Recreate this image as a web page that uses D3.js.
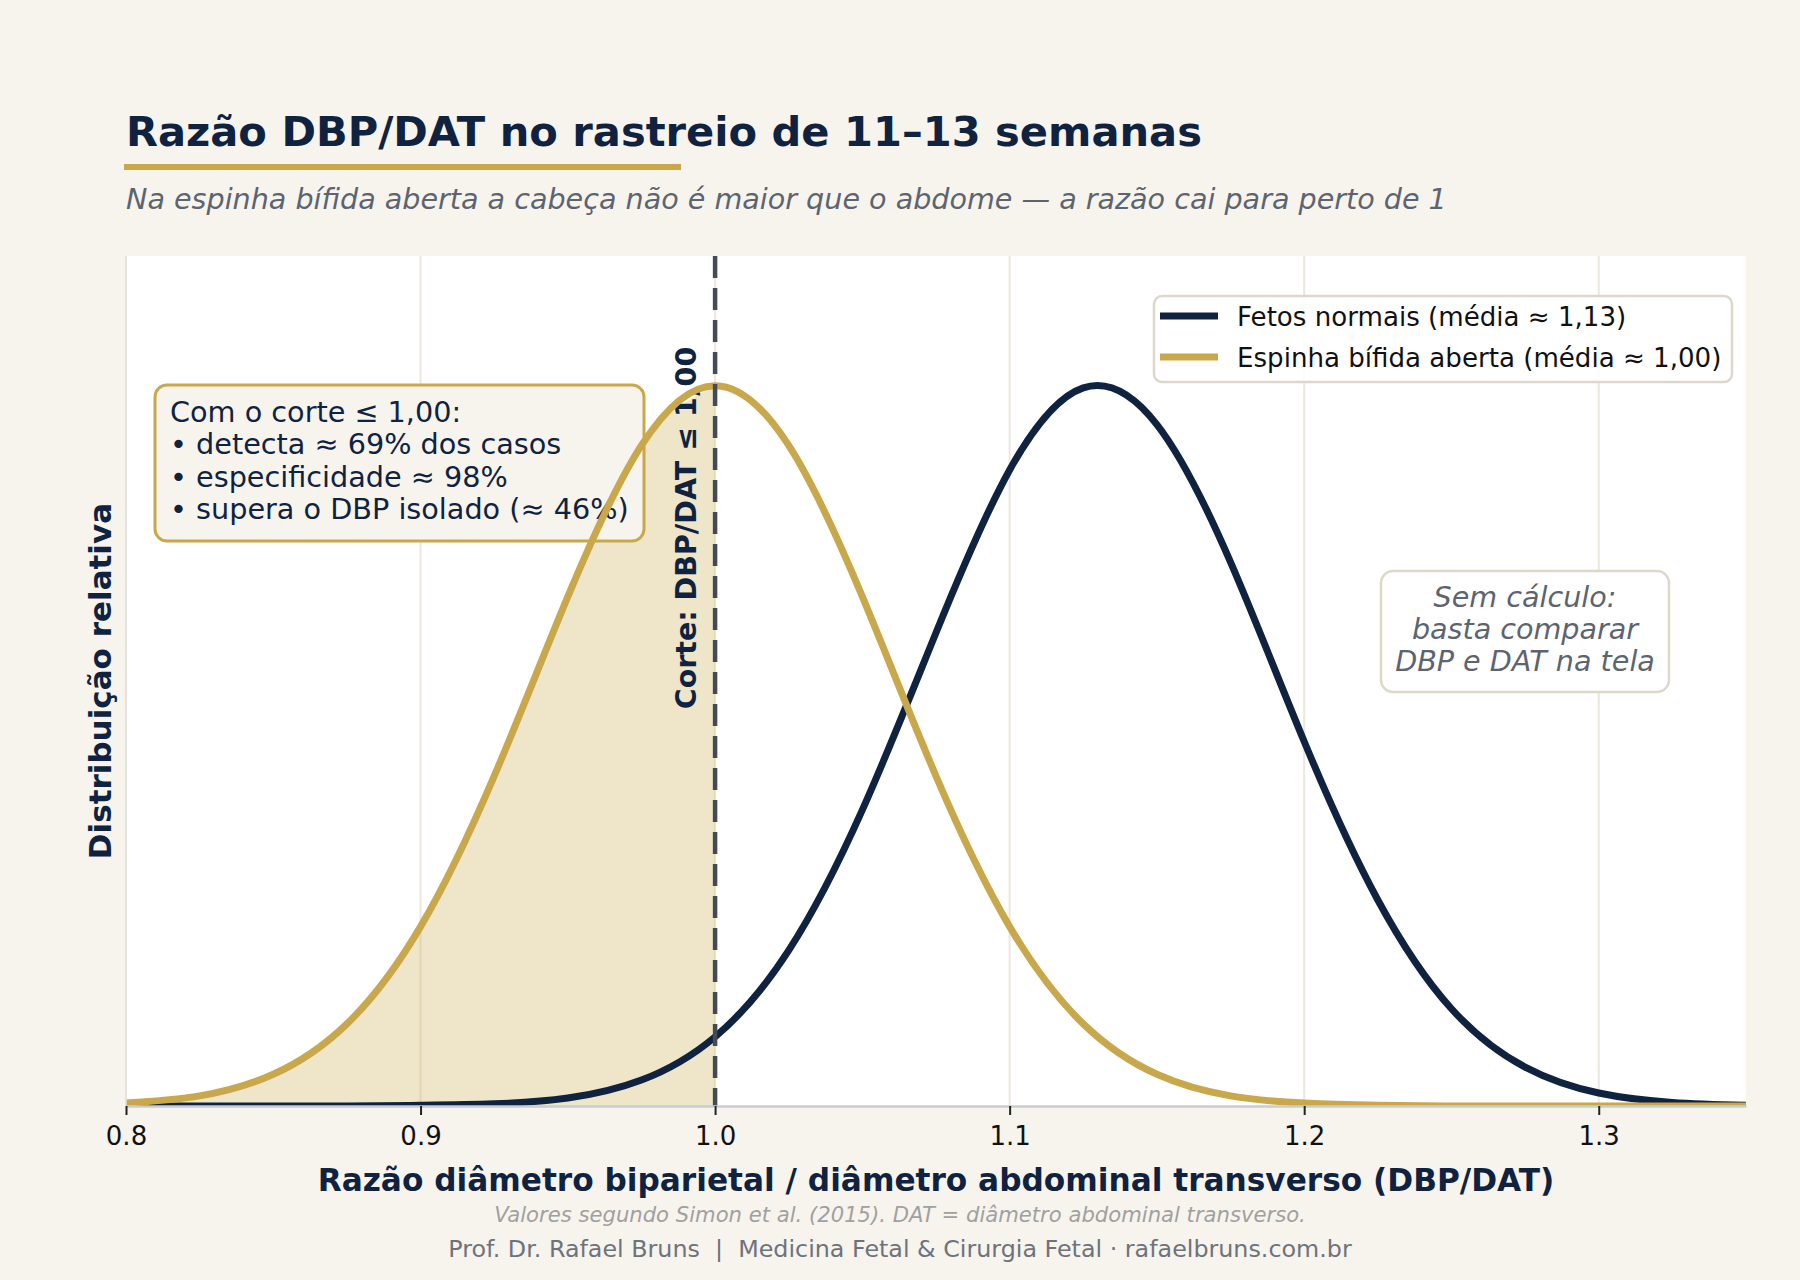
<!DOCTYPE html>
<html>
<head>
<meta charset="utf-8">
<script src="https://cdn.jsdelivr.net/npm/d3@7"></script>
<style>
  html, body { margin: 0; padding: 0; background: #F7F4EE; }
  svg { display: block; font-family: "DejaVu Sans", sans-serif; }
</style>
</head>
<body>
<div id="chart"></div>
<script>
// values (relative height, peak = 1)
var ratio = [0.800, 0.825, 0.850, 0.875, 0.900, 0.925, 0.950, 0.975, 1.000, 1.025, 1.050, 1.075,
             1.100, 1.125, 1.150, 1.175, 1.200, 1.225, 1.250, 1.275, 1.300, 1.325, 1.350];
var normalFetuses = [0.000, 0.000, 0.000, 0.000, 0.001, 0.003, 0.011, 0.036, 0.096, 0.216, 0.411, 0.657,
                     0.883, 0.997, 0.946, 0.755, 0.506, 0.286, 0.135, 0.054, 0.018, 0.005, 0.001];
var openSpina = [0.004, 0.014, 0.044, 0.114, 0.249, 0.458, 0.707, 0.917, 1.000, 0.917, 0.707, 0.458,
                 0.249, 0.114, 0.044, 0.014, 0.004, 0.001, 0.000, 0.000, 0.000, 0.000, 0.000];
var cutoff = 1.00;
var xTicks = [0.8, 0.9, 1.0, 1.1, 1.2, 1.3];
var legendLabels = ["Fetos normais (média ≈ 1,13)", "Espinha bífida aberta (média ≈ 1,00)"];
var boxLines = ["Com o corte ≤ 1,00:", "• detecta ≈ 69% dos casos",
                "• especificidade ≈ 98%", "• supera o DBP isolado (≈ 46%)"];
var noteLines = ["Sem cálculo:", "basta comparar", "DBP e DAT na tela"];

var navy = "#0F2340", gold = "#C9A84C";

var margin = {top: 256, right: 54, bottom: 174, left: 126},
    width = 1800 - margin.left - margin.right,
    height = 1280 - margin.top - margin.bottom;

var x = d3.scaleLinear().domain([0.8, 1.35]).range([0, width]);
var y = d3.scaleLinear().domain([0, 1.18]).range([height, 0]);

var svgRoot = d3.select("#chart").append("svg")
    .attr("width", 1800)
    .attr("height", 1280);

svgRoot.append("rect")
    .attr("width", 1800).attr("height", 1280)
    .attr("fill", "#F7F4EE");

// title block
svgRoot.append("text")
    .attr("x", 126).attr("y", 146)
    .attr("font-size", 41.6).attr("font-weight", "bold")
    .attr("fill", navy)
    .text("Razão DBP/DAT no rastreio de 11–13 semanas");

svgRoot.append("rect")
    .attr("x", 124).attr("y", 164)
    .attr("width", 557).attr("height", 6)
    .attr("fill", gold);

svgRoot.append("text")
    .attr("x", 126).attr("y", 209)
    .attr("font-size", 28.6).attr("font-style", "italic")
    .attr("fill", "#5C6470")
    .text("Na espinha bífida aberta a cabeça não é maior que o abdome — a razão cai para perto de 1");

var svg = svgRoot.append("g")
    .attr("transform", "translate(" + margin.left + "," + margin.top + ")");

svg.append("defs").append("clipPath").attr("id", "plotclip")
  .append("rect").attr("width", width).attr("height", height);

svg.append("rect")
    .attr("width", width).attr("height", height)
    .attr("fill", "#FFFFFF");

// vertical grid
svg.selectAll(".grid")
    .data(xTicks)
  .enter().append("line")
    .attr("class", "grid")
    .attr("x1", function(d) { return x(d); })
    .attr("x2", function(d) { return x(d); })
    .attr("y1", 0).attr("y2", height)
    .attr("stroke", "#ECE7DC").attr("stroke-width", 2);

var pts = function(vals) {
  return ratio.map(function(r, i) { return {r: r, v: vals[i]}; });
};

// shaded tail below the cut-off
var area = d3.area()
    .x(function(d) { return x(d.r); })
    .y0(y(0))
    .y1(function(d) { return y(d.v); })
    .curve(d3.curveNatural);

svg.append("path")
    .datum(pts(openSpina).filter(function(d) { return d.r <= cutoff; }))
    .attr("d", area)
    .attr("fill", gold).attr("fill-opacity", 0.3)
    .attr("clip-path", "url(#plotclip)");

// left annotation box
var box = svg.append("g").attr("transform", "translate(29,129)");
box.append("rect")
    .attr("width", 489).attr("height", 156)
    .attr("rx", 12)
    .attr("fill", "#F7F4EE")
    .attr("stroke", gold).attr("stroke-width", 3);
box.selectAll("text")
    .data(boxLines)
  .enter().append("text")
    .attr("x", 15)
    .attr("y", function(d, i) { return 37 + i * 32.3; })
    .attr("font-size", 28.7)
    .attr("fill", navy)
    .text(function(d) { return d; });

// right note
var note = svg.append("g").attr("transform", "translate(1255,315)");
note.append("rect")
    .attr("width", 288).attr("height", 121)
    .attr("rx", 12)
    .attr("fill", "#FFFFFF")
    .attr("stroke", "#DDD8CC").attr("stroke-width", 2.5);
note.selectAll("text")
    .data(noteLines)
  .enter().append("text")
    .attr("x", 144)
    .attr("y", function(d, i) { return 36 + i * 32; })
    .attr("text-anchor", "middle")
    .attr("font-size", 28.6).attr("font-style", "italic")
    .attr("fill", "#5C6470")
    .text(function(d) { return d; });

// cut-off label
svg.append("text")
    .attr("transform", "translate(" + (x(cutoff) - 19) + "," + 272 + ")rotate(-90)")
    .attr("text-anchor", "middle")
    .attr("font-size", 28.5).attr("font-weight", "bold")
    .attr("fill", navy)
    .text("Corte: DBP/DAT ≤ 1,00");

// density curves
var line = d3.line()
    .x(function(d) { return x(d.r); })
    .y(function(d) { return y(d.v); })
    .curve(d3.curveNatural);

svg.append("path")
    .datum(pts(normalFetuses))
    .attr("d", line)
    .attr("fill", "none")
    .attr("stroke", navy).attr("stroke-width", 7)
    .attr("clip-path", "url(#plotclip)");

svg.append("path")
    .datum(pts(openSpina))
    .attr("d", line)
    .attr("fill", "none")
    .attr("stroke", gold).attr("stroke-width", 7)
    .attr("clip-path", "url(#plotclip)");

// cut-off line
svg.append("line")
    .attr("x1", x(cutoff)).attr("x2", x(cutoff))
    .attr("y1", 0).attr("y2", height)
    .attr("stroke", "#454B55").attr("stroke-width", 4.5)
    .attr("stroke-dasharray", "22,10");

// spines
svg.append("line")
    .attr("x1", 0).attr("x2", 0).attr("y1", 0).attr("y2", height)
    .attr("stroke", "#E6E2DA").attr("stroke-width", 1.5);

var xAxis = svg.append("g")
    .attr("transform", "translate(0," + height + ")")
    .call(d3.axisBottom(x).tickValues(xTicks).tickFormat(d3.format(".1f"))
          .tickSize(9).tickSizeOuter(0).tickPadding(12));
xAxis.select(".domain").attr("stroke", "#C8CCD3").attr("stroke-width", 2.5);
xAxis.selectAll(".tick line").attr("stroke", "#222").attr("stroke-width", 2);
xAxis.selectAll(".tick text")
    .attr("font-family", "DejaVu Sans")
    .attr("font-size", 26).attr("fill", "#111");

// axis titles
svgRoot.append("text")
    .attr("x", margin.left + width / 2).attr("y", 1191)
    .attr("text-anchor", "middle")
    .attr("font-size", 31.2).attr("font-weight", "bold")
    .attr("fill", navy)
    .text("Razão diâmetro biparietal / diâmetro abdominal transverso (DBP/DAT)");

svgRoot.append("text")
    .attr("transform", "translate(111," + (margin.top + height / 2) + ")rotate(-90)")
    .attr("text-anchor", "middle")
    .attr("font-size", 31).attr("font-weight", "bold")
    .attr("fill", navy)
    .text("Distribuição relativa");

// legend
var legend = svg.append("g").attr("transform", "translate(1028,40)");
legend.append("rect")
    .attr("width", 578).attr("height", 86)
    .attr("rx", 8)
    .attr("fill", "#FFFFFF").attr("fill-opacity", 0.85)
    .attr("stroke", "#DDD8CC").attr("stroke-width", 2.5);
var entries = legend.selectAll(".entry")
    .data(legendLabels)
  .enter().append("g")
    .attr("class", "entry")
    .attr("transform", function(d, i) { return "translate(0," + (20 + i * 41) + ")"; });
entries.append("line")
    .attr("x1", 6).attr("x2", 64)
    .attr("stroke", function(d, i) { return i === 0 ? navy : gold; })
    .attr("stroke-width", 7);
entries.append("text")
    .attr("x", 83).attr("y", 9.5)
    .attr("font-size", 26.1).attr("fill", "#111")
    .text(function(d) { return d; });

// footer
svgRoot.append("text")
    .attr("x", 900).attr("y", 1222)
    .attr("text-anchor", "middle")
    .attr("font-size", 21.15).attr("font-style", "italic")
    .attr("fill", "#A0A0A0")
    .text("Valores segundo Simon et al. (2015). DAT = diâmetro abdominal transverso.");

svgRoot.append("text")
    .attr("x", 900).attr("y", 1257)
    .attr("text-anchor", "middle")
    .attr("font-size", 23.8)
    .attr("fill", "#6E737B")
    .style("white-space", "pre")
    .text("Prof. Dr. Rafael Bruns  |  Medicina Fetal & Cirurgia Fetal · rafaelbruns.com.br");
</script>
</body>
</html>
